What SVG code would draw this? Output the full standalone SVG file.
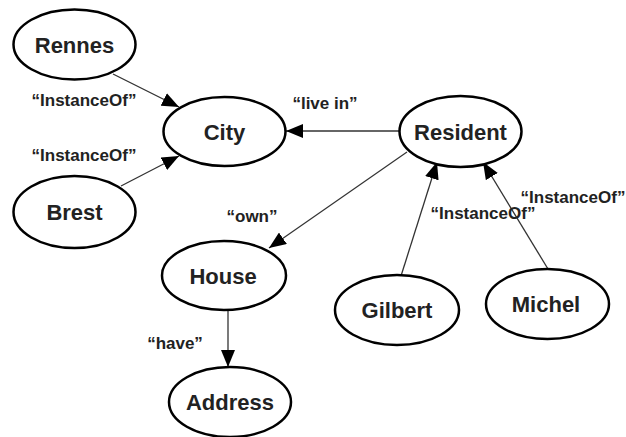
<svg xmlns="http://www.w3.org/2000/svg" width="626" height="437" viewBox="0 0 626 437">
<defs>
<marker id="arr" markerUnits="userSpaceOnUse" markerWidth="18" markerHeight="14" refX="17" refY="7" orient="auto">
<path d="M0,0 L17,7 L0,14 z" fill="#000"/>
</marker>
<style>
.node ellipse{fill:#fff;stroke:#000;stroke-width:2.5}
.node text{font-family:"Liberation Sans",Arial,sans-serif;font-weight:bold;font-size:22px;text-anchor:middle;fill:#222}
.edge line{stroke:#333;stroke-width:1.3;marker-end:url(#arr)}
.lbl{font-family:"Liberation Sans",Arial,sans-serif;font-weight:bold;font-size:17px;fill:#222;text-anchor:middle}
</style>
</defs>
<rect width="626" height="437" fill="#fff"/>
<g id="connectors" class="edge">
<line x1="113" y1="74" x2="179" y2="107"/>
<line x1="121" y1="186" x2="179" y2="156"/>
<line x1="399" y1="131" x2="286" y2="131"/>
<line x1="407" y1="152" x2="269" y2="248"/>
<line x1="401" y1="276" x2="437" y2="162"/>
<line x1="548" y1="269" x2="483" y2="162"/>
<line x1="228" y1="310" x2="228" y2="367"/>
</g>
<g id="labels">
<text class="lbl" x="84" y="106">“InstanceOf”</text>
<text class="lbl" x="84" y="161">“InstanceOf”</text>
<text class="lbl" x="325" y="109">“live in”</text>
<text class="lbl" x="252" y="222">“own”</text>
<text class="lbl" x="483" y="219">“InstanceOf”</text>
<text class="lbl" x="573" y="203">“InstanceOf”</text>
<text class="lbl" x="175" y="349">“have”</text>
</g>
<g id="Rennes" class="node"><ellipse cx="74.5" cy="44.5" rx="61" ry="35"/><text x="74.5" y="52.5">Rennes</text></g>
<g id="Brest" class="node"><ellipse cx="74.5" cy="212" rx="61" ry="36"/><text x="74.5" y="220">Brest</text></g>
<g id="City" class="node"><ellipse cx="224.5" cy="131.5" rx="61" ry="34.5"/><text x="224.5" y="139.5">City</text></g>
<g id="Resident" class="node"><ellipse cx="460.5" cy="131.5" rx="61" ry="35.5"/><text x="460.5" y="139.5">Resident</text></g>
<g id="House" class="node"><ellipse cx="224" cy="275.5" rx="62" ry="34.5"/><text x="223" y="283.5">House</text></g>
<g id="Address" class="node"><ellipse cx="230" cy="402" rx="61" ry="35"/><text x="230" y="410">Address</text></g>
<g id="Gilbert" class="node"><ellipse cx="397" cy="310" rx="62" ry="35"/><text x="397" y="317.5">Gilbert</text></g>
<g id="Michel" class="node"><ellipse cx="547.5" cy="304" rx="61.5" ry="35"/><text x="546" y="311.5">Michel</text></g>
</svg>
